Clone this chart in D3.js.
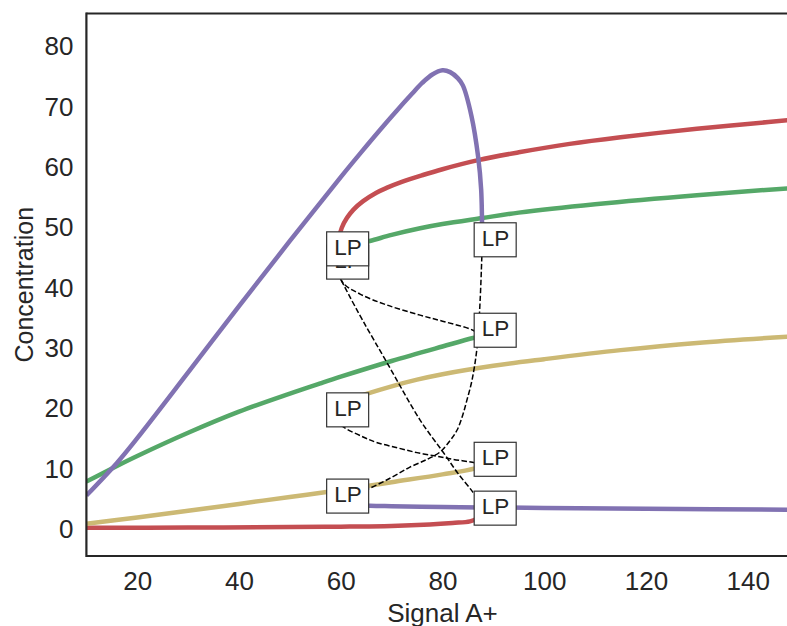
<!DOCTYPE html>
<html>
<head>
<meta charset="utf-8">
<script src="https://cdn.jsdelivr.net/npm/d3@7"></script>
<style>
  html, body { margin: 0; padding: 0; background: #fff; }
  svg { display: block; font-family: "Liberation Sans", Arial, sans-serif; }
</style>
</head>
<body>
<svg id="chart" width="787" height="626"></svg>
<script>
// Axis ticks
const xTicks = [20, 40, 60, 80, 100, 120, 140];
const yTicks = [0, 10, 20, 30, 40, 50, 60, 70, 80];

// Steady-state branches: [signal, concentration]
const redLow = [[10,0.05],[30,0.08],[50,0.15],[60,0.22],[70,0.35],[77.5,0.6],[82,0.85],[85.4,1.1],[86.8,1.6],[87.8,2.3]];
const redHigh = [[58.8,43.1],[59.3,47.0],[60.2,49.8],[61.2,51.4],[62.5,52.8],[64.4,54.2],[67,55.6],[69,56.4],[72,57.4],[76,58.5],[80,59.5],[87,61.0],[95,62.3],[105,63.7],[115,64.8],[130,66.2],[140,67.0],[150,67.8]];
const redMid = [[87.8,2.3],[87.2,4.2],[86.0,5.9],[83,9.1],[80.1,12.6],[75.6,17.9],[69.1,27.4],[64.4,34.3],[61.5,38.8],[59.85,41.5],[58.8,43.1]];

const greenLow = [[10,7.7],[16,10.3],[20,11.95],[30,15.8],[40,19.3],[50,22.3],[56,24.0],[60,25.1],[70,27.7],[80,30.1],[86,31.5],[87.8,31.8]];
const greenHigh = [[58.8,45.3],[59.6,46.3],[61.5,46.8],[65.7,47.6],[70,48.6],[75.6,49.7],[80,50.4],[87.8,51.4],[95,52.3],[110,53.7],[130,55.2],[150,56.45]];
const greenMid = [[87.8,31.8],[86.0,32.8],[80,34.3],[75.6,35.3],[69.0,37.0],[63.8,38.8],[60.3,40.8],[58.8,45.3]];

const yellowLow = [[10,0.7],[20,1.75],[30,2.85],[40,4.0],[50,5.15],[60,6.3],[70,7.6],[80,8.9],[86.4,9.9],[87.8,10.4]];
const yellowHigh = [[58.8,18.6],[59.5,20.0],[61,21.0],[65.7,22.4],[70,23.5],[75,24.6],[80,25.5],[90,26.9],[100,28.0],[115,29.5],[130,30.7],[150,31.85]];
const yellowMid = [[87.8,10.4],[86.4,10.8],[82,11.4],[78.9,11.9],[75,12.5],[71.1,13.3],[67,14.2],[64.4,15.1],[60.8,16.6],[59.3,17.6],[58.8,18.6]];

const purpleHigh = [[10,5.4],[16,10.8],[20,14.9],[30,25.8],[40,36.8],[50,47.6],[60,58.2],[64,62.3],[68,66.3],[71,69.2],[74,72.0],[76,73.8],[78,75.2],[80,75.9],[81.5,75.6],[83,74.6],[84,73.4],[85.7,68.3],[87,61.6],[87.6,56.1],[87.8,46.8]];
const purpleLow = [[58.8,4.3],[60.5,4.0],[65.7,3.7],[70,3.62],[80,3.5],[87.8,3.42],[100,3.33],[120,3.2],[150,3.02]];
const purpleMid = [[58.8,4.3],[61,5.0],[65.7,6.6],[70,8.4],[73.6,10.1],[77,11.4],[79.5,12.6],[81.5,14.5],[82.9,16.3],[84.0,18.8],[84.8,21.2],[85.8,24.5],[86.8,30.0],[87.4,37.8],[87.8,46.8]];

// Limit points (fold bifurcations), drawn in this order
const limitPoints = [
  [58.8,43.1],[87.8,2.3],     // red
  [58.8,45.3],[87.8,31.8],    // green
  [58.8,18.6],[87.8,10.4],    // yellow
  [58.8,4.3],[87.8,46.8]      // purple
];

const colors = { red: "#C44E52", green: "#55A868", yellow: "#CCB974", purple: "#8172B2" };
const ink = "#262626";

const svg = d3.select("#chart");
const plot = { left: 86.4, right: 798.6, top: 13.5, bottom: 556 };

const x = d3.scaleLinear().domain([10, 150]).range([plot.left, plot.right]);
const y = d3.scaleLinear().domain([-4.64, 85.32]).range([plot.bottom, plot.top]);

svg.append("defs").append("clipPath").attr("id", "plotArea")
  .append("rect")
  .attr("x", plot.left).attr("y", plot.top)
  .attr("width", plot.right - plot.left).attr("height", plot.bottom - plot.top);

const line = d3.line()
  .x(d => x(d[0]))
  .y(d => y(d[1]))
  .curve(d3.curveCatmullRom.alpha(0.5));

const plotG = svg.append("g").attr("clip-path", "url(#plotArea)");

const stable = [
  [redLow, colors.red], [redHigh, colors.red],
  [greenLow, colors.green], [greenHigh, colors.green],
  [yellowLow, colors.yellow], [yellowHigh, colors.yellow],
  [purpleHigh, colors.purple], [purpleLow, colors.purple]
];
const unstable = [redMid, greenMid, yellowMid, purpleMid];

plotG.selectAll("path.stable")
  .data(stable)
  .join("path")
  .attr("class", "stable")
  .attr("d", d => line(d[0]))
  .attr("fill", "none")
  .attr("stroke", d => d[1])
  .attr("stroke-width", 4.5)
  .attr("stroke-linejoin", "round");

plotG.selectAll("path.unstable")
  .data(unstable)
  .join("path")
  .attr("class", "unstable")
  .attr("d", d => line(d))
  .attr("fill", "none")
  .attr("stroke", "#000")
  .attr("stroke-width", 1.5)
  .attr("stroke-dasharray", "5.5,2.4");

// LP labels: text anchored at the point, boxed
const lp = plotG.selectAll("g.lp")
  .data(limitPoints)
  .join("g")
  .attr("class", "lp")
  .attr("transform", d => `translate(${x(d[0])},${y(d[1])})`);

lp.append("rect")
  .attr("x", -8).attr("y", -23)
  .attr("width", 42).attr("height", 34)
  .attr("fill", "#fff")
  .attr("stroke", "#333")
  .attr("stroke-width", 1.2);

lp.append("text")
  .attr("x", -0.5).attr("y", 0)
  .attr("font-size", 22.5)
  .attr("fill", ink)
  .text("LP");

// Spines: left, top, bottom
const spines = svg.append("g").attr("stroke", ink).attr("stroke-width", 2.2).attr("fill", "none");
spines.append("line").attr("x1", plot.left).attr("x2", plot.left).attr("y1", plot.top - 1.1).attr("y2", plot.bottom + 1.1);
spines.append("line").attr("x1", plot.left).attr("x2", plot.right).attr("y1", plot.top).attr("y2", plot.top);
spines.append("line").attr("x1", plot.left).attr("x2", plot.right).attr("y1", plot.bottom).attr("y2", plot.bottom);

// Axes (labels only)
const xAxis = svg.append("g")
  .attr("transform", `translate(0,${plot.bottom})`)
  .call(d3.axisBottom(x).tickValues(xTicks).tickSize(0).tickPadding(15.5).tickFormat(d3.format("d")));
const yAxis = svg.append("g")
  .attr("transform", `translate(${plot.left},0)`)
  .call(d3.axisLeft(y).tickValues(yTicks).tickSize(0).tickPadding(13).tickFormat(d3.format("d")));

[xAxis, yAxis].forEach(g => {
  g.select(".domain").remove();
  g.attr("font-family", null).attr("font-size", null);
  g.selectAll("text").attr("font-size", 26).attr("fill", ink);
});
yAxis.selectAll("text").attr("dy", "0.36em");

svg.append("text")
  .attr("x", (plot.left + plot.right) / 2)
  .attr("y", 621.5)
  .attr("text-anchor", "middle")
  .attr("font-size", 26)
  .attr("fill", ink)
  .text("Signal A+");

svg.append("text")
  .attr("transform", `translate(33,${(plot.top + plot.bottom) / 2}) rotate(-90)`)
  .attr("text-anchor", "middle")
  .attr("font-size", 25)
  .attr("fill", ink)
  .text("Concentration");
</script>
</body>
</html>
